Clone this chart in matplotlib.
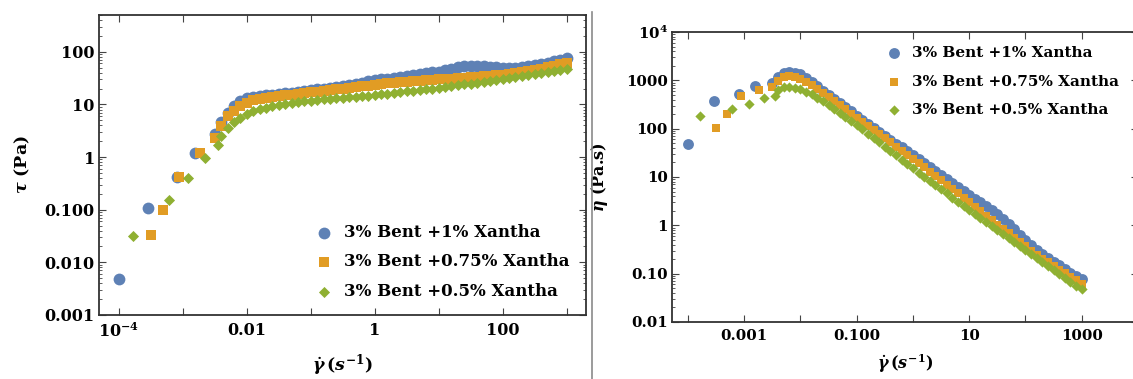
import matplotlib
matplotlib.use("Agg")
import matplotlib.pyplot as plt
from matplotlib.ticker import LogLocator, NullFormatter, NullLocator
from matplotlib.lines import Line2D

plt.rcParams['font.family'] = ['DejaVu Serif']
plt.rcParams['font.weight'] = 'bold'
plt.rcParams['mathtext.fontset'] = 'dejavuserif'

# ---- data ----
labels = ['3% Bent +1% Xantha', '3% Bent +0.75% Xantha', '3% Bent +0.5% Xantha']
colors = ['#5E81B5', '#E19C24', '#8FB032']

# shear rates shared by all samples above 0.01 1/s
rate_dense = [0.0100, 0.0126, 0.0158, 0.0200, 0.0251, 0.0316, 0.0398, 0.0501, 0.0631, 0.0794,
              0.100, 0.126, 0.158, 0.200, 0.251, 0.316, 0.398, 0.501, 0.631, 0.794,
              1.00, 1.26, 1.58, 2.00, 2.51, 3.16, 3.98, 5.01, 6.31, 7.94,
              10.0, 12.6, 15.8, 20.0, 25.1, 31.6, 39.8, 50.1, 63.1, 79.4,
              100, 126, 158, 200, 251, 316, 398, 501, 631, 794,
              1000]

# low-rate points differ per sample
rate_low_1 = [1.0e-4, 2.9e-4, 8.1e-4, 1.55e-3, 3.16e-3, 3.98e-3, 5.01e-3, 6.31e-3, 7.94e-3]
rate_low_075 = [3.2e-4, 4.9e-4, 8.6e-4, 1.85e-3, 3.16e-3, 3.98e-3, 5.01e-3, 6.31e-3, 7.94e-3]
rate_low_05 = [1.66e-4, 6.0e-4, 1.22e-3, 2.25e-3, 3.55e-3, 3.98e-3, 5.01e-3, 6.31e-3, 7.94e-3]

# shear stress tau (Pa)
tau_1 = [0.0048, 0.11, 0.42, 1.2, 2.8, 4.7, 7.0, 9.2, 11.5,
         13.3, 14.0, 14.5, 15.0, 15.4, 15.8, 16.3, 16.8, 17.3, 18.0,
         18.6, 19.3, 20.0, 20.8, 21.7, 22.6, 23.6, 24.7, 25.9, 27.3,
         28.5, 30.0, 31.0, 32.0, 33.0, 34.5, 36.0, 37.5, 39.0, 40.5,
         42.0, 45.0, 48.0, 50.5, 52.5, 53.5, 54.0, 53.5, 52.0, 50.5,
         49.5, 49.0, 49.5, 51.0, 53.0, 56.0, 59.0, 62.5, 66.5, 71.0,
         76.0]
tau_075 = [0.033, 0.097, 0.41, 1.18, 2.3, 3.9, 5.9, 7.6, 9.3,
           10.8, 11.9, 12.7, 13.3, 13.8, 14.3, 14.8, 15.3, 15.8, 16.3,
           16.9, 17.5, 18.1, 18.7, 19.3, 19.9, 20.6, 21.3, 22.0, 22.8,
           23.6, 24.3, 25.0, 25.6, 26.3, 27.0, 27.6, 28.2, 28.8, 29.4,
           30.0, 30.5, 31.0, 31.5, 32.0, 32.6, 33.3, 34.0, 34.8, 35.7,
           36.7, 37.9, 39.3, 40.9, 42.8, 45.0, 47.6, 50.6, 54.0, 58.0,
           62.5]
tau_05 = [0.031, 0.15, 0.40, 0.97, 1.7, 2.5, 3.6, 4.6, 5.6,
          6.6, 7.4, 8.1, 8.7, 9.2, 9.7, 10.2, 10.6, 11.0, 11.4,
          11.8, 12.2, 12.5, 12.8, 13.1, 13.4, 13.7, 14.0, 14.3, 14.7,
          15.1, 15.5, 16.0, 16.5, 17.0, 17.6, 18.2, 18.8, 19.4, 20.0,
          20.7, 21.4, 22.2, 23.0, 23.9, 24.8, 25.8, 26.8, 27.9, 29.0,
          30.2, 31.5, 32.8, 34.2, 35.7, 37.3, 39.0, 40.8, 42.8, 45.0,
          47.5]

# viscosity eta (Pa.s)
eta_1 = [48, 379, 519, 774, 886, 1181, 1397, 1458, 1448,
         1330, 1111, 918, 750, 614, 500, 410, 335, 274, 227,
         186, 153, 127, 104, 86.5, 71.5, 59.3, 49.3, 41.0, 34.4,
         28.5, 23.8, 19.6, 16.0, 13.1, 10.9, 9.05, 7.49, 6.18, 5.10,
         4.20, 3.57, 3.04, 2.53, 2.09, 1.69, 1.36, 1.07, 0.824, 0.636,
         0.495, 0.389, 0.313, 0.255, 0.211, 0.177, 0.148, 0.125, 0.105, 0.0894,
         0.076]
eta_075 = [103, 198, 477, 638, 728, 980, 1178, 1204, 1171,
           1080, 944, 804, 665, 550, 453, 372, 305, 250, 205,
           169, 139, 115, 93.5, 76.9, 63.0, 51.8, 42.5, 34.9, 28.7,
           23.6, 19.3, 15.8, 12.8, 10.5, 8.54, 6.93, 5.63, 4.56, 3.70,
           3.00, 2.42, 1.96, 1.58, 1.27, 1.03, 0.837, 0.679, 0.552, 0.450,
           0.367, 0.301, 0.249, 0.205, 0.171, 0.142, 0.120, 0.101, 0.0856, 0.0730,
           0.0625]
eta_05 = [187, 250, 328, 431, 479, 628, 719, 729, 705,
          660, 587, 513, 435, 367, 307, 256, 212, 174, 144,
          118, 96.8, 79.1, 64.0, 52.2, 42.4, 34.4, 27.9, 22.7, 18.5,
          15.1, 12.3, 10.1, 8.25, 6.77, 5.57, 4.57, 3.75, 3.07, 2.52,
          2.07, 1.70, 1.41, 1.15, 0.952, 0.785, 0.648, 0.535, 0.442, 0.365,
          0.302, 0.250, 0.208, 0.171, 0.142, 0.118, 0.0980, 0.0814, 0.0678, 0.0567,
          0.0475]

rates = [rate_low_1 + rate_dense, rate_low_075 + rate_dense, rate_low_05 + rate_dense]
taus = [tau_1, tau_075, tau_05]
etas = [eta_1, eta_075, eta_05]
markers = ['o', 's', 'D']
sizes = [72, 42, 32]

fig = plt.figure(figsize=(11.33, 3.79), dpi=100)
ax1 = fig.add_axes([0.0874, 0.1689, 0.4298, 0.7916])
ax2 = fig.add_axes([0.5931, 0.1504, 0.4113, 0.7652])

for i in range(3):
    ax1.scatter(rates[i], taus[i], s=sizes[i], marker=markers[i], color=colors[i],
                linewidths=0, label=labels[i], zorder=3 + i)
    # right panel is drawn a little smaller in the original
    ax2.scatter(rates[i], etas[i], s=sizes[i] * 0.85, marker=markers[i], color=colors[i],
                linewidths=0, label=labels[i], zorder=3 + i)

for ax, fs in ((ax1, 11.5), (ax2, 10.8)):
    ax.set_xscale('log')
    ax.set_yscale('log')
    for sp in ax.spines.values():
        sp.set_color('#333333')
        sp.set_linewidth(1.3)
    ax.xaxis.set_minor_locator(NullLocator())
    ax.yaxis.set_minor_locator(LogLocator(base=10, subs=range(2, 10), numticks=20))
    ax.yaxis.set_minor_formatter(NullFormatter())
    ax.tick_params(which='both', direction='in', top=True, right=True, color='#444444')
    ax.tick_params(which='major', length=5, width=0.8, labelsize=fs)
    ax.tick_params(which='minor', length=2.5, width=0.6)
    ax.tick_params(axis='y', pad=3)
    ax.tick_params(axis='x', pad=5)

# left: shear stress
ax1.set_xlim(4.9e-5, 2000)
ax1.set_ylim(0.001, 500)
ax1.set_xticks([1e-4, 1e-3, 1e-2, 1e-1, 1, 10, 100, 1000],
               [r'$\mathbf{10^{-4}}$', '', '0.01', '', '1', '', '100', ''])
ax1.set_yticks([1e-3, 1e-2, 1e-1, 1, 10, 100],
               ['0.001', '0.010', '0.100', '1', '10', '100'])
ax1.set_xlabel(r'$\dot{\gamma}\,(s^{-1})$', fontsize=12.5, fontweight='bold')
ax1.set_ylabel(r'$\tau$ (Pa)', fontsize=12.5, fontweight='bold')
ax1.xaxis.set_label_coords(0.5, -0.125)
ax1.yaxis.set_label_coords(-0.138, 0.5)
ax1.legend(loc='center left', bbox_to_anchor=(0.444, 0.177), frameon=False,
           prop={'size': 12, 'weight': 'bold'}, handlelength=1.0, handletextpad=0.75,
           labelspacing=0.75, borderpad=0, borderaxespad=0)

# right: viscosity
ax2.set_xlim(5.2e-5, 1e4)
ax2.set_ylim(0.01, 1e4)
ax2.set_xticks([1e-4, 1e-3, 1e-2, 1e-1, 1, 10, 100, 1000],
               ['', '0.001', '', '0.100', '', '10', '', '1000'])
ax2.set_yticks([1e-2, 1e-1, 1, 10, 100, 1000, 1e4],
               ['0.01', '0.10', '1', '10', '100', '1000', r'$\mathbf{10^{4}}$'])
ax2.set_xlabel(r'$\dot{\gamma}\,(s^{-1})$', fontsize=11.5, fontweight='bold')
ax2.set_ylabel(r'$\eta$ (Pa.s)', fontsize=11.5, fontweight='bold')
ax2.xaxis.set_label_coords(0.5, -0.105)
ax2.yaxis.set_label_coords(-0.133, 0.5)
ax2.legend(loc='center left', bbox_to_anchor=(0.461, 0.829), frameon=False,
           prop={'size': 11, 'weight': 'bold'}, handlelength=1.0, handletextpad=0.65,
           labelspacing=0.95, borderpad=0, borderaxespad=0)

# grey divider between the two panels
fig.add_artist(Line2D([592 / 1133, 592 / 1133], [0, 1 - 12 / 379], color='#8a8a8a', lw=1.2))

fig.savefig('out.png', dpi=100)
